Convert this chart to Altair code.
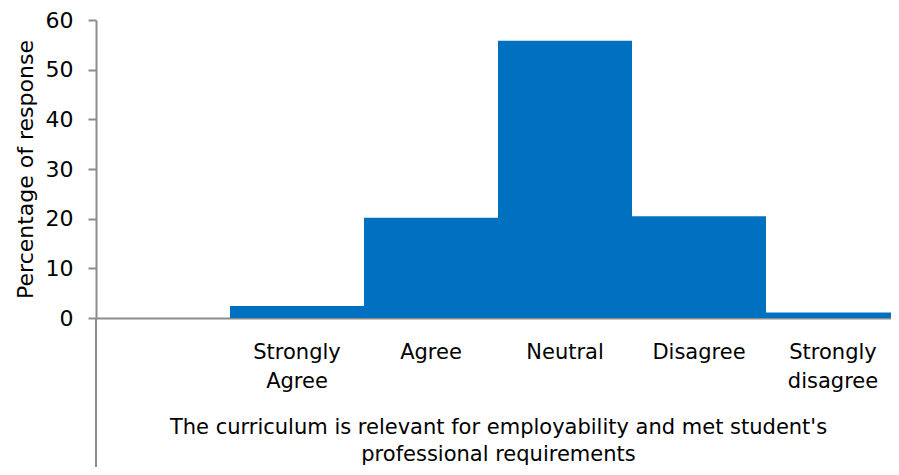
import altair as alt
import pandas as pd

categories = ["Strongly Agree", "Agree", "Neutral", "Disagree", "Strongly disagree"]
values = [2.4, 20.2, 55.8, 20.5, 1.1]
domain = [" "] + categories
y_ticks = [0, 10, 20, 30, 40, 50, 60]
x_title = ["The curriculum is relevant for employability and met student's",
           "professional requirements"]
y_title = "Percentage of response"

df = pd.DataFrame({"cat": categories, "val": values})

axis_color = "#8c8c8c"
font = "DejaVu Sans"

bars = alt.Chart(df).mark_bar(color="#0070C0").encode(
    x=alt.X("cat:N", sort=domain,
            scale=alt.Scale(domain=domain, range=[0, 804], paddingInner=0, paddingOuter=0),
            axis=alt.Axis(labelExpr="split(datum.label, ' ')", labelAngle=0,
                          ticks=False, labelFont=font, labelFontSize=21,
                          labelColor="#000000", labelPadding=23, labelLineHeight=29,
                          labelBaseline="top",
                          domainColor=axis_color, domainWidth=2,
                          title=x_title, titleFont=font,
                          titleFontSize=21, titleFontWeight="normal",
                          titleColor="#000000", titlePadding=25,
                          titleLineHeight=27)),
    y=alt.Y("val:Q", scale=alt.Scale(domain=[0, 60], nice=False),
            axis=alt.Axis(values=y_ticks, grid=False, tickSize=8, tickColor=axis_color,
                          tickWidth=2, domainColor=axis_color, domainWidth=2,
                          labelFont=font, labelFontSize=22,
                          labelColor="#000000", labelPadding=15,
                          title=y_title, titleFont=font,
                          titleFontSize=22, titleFontWeight="normal",
                          titleColor="#000000", titlePadding=8)),
)

ext = alt.Chart(pd.DataFrame({"a": [0]})).mark_rule(
    color=axis_color, strokeWidth=2).encode(
    x=alt.value(0), y=alt.value(298), y2=alt.value(452))

chart = alt.layer(bars, ext).properties(
    width=795, height=298,
    background="#ffffff",
    autosize=alt.AutoSizeParams(type="none"),
    padding={"left": 88, "top": 12, "right": 0, "bottom": 149},
).configure_view(stroke=None)

chart.save("out.html", embed_options={"renderer": "svg", "actions": False})
